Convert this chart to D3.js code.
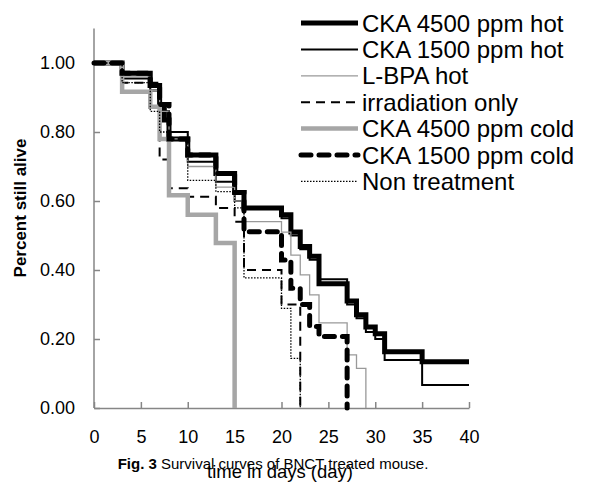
<!DOCTYPE html>
<html>
<head>
<meta charset="UTF-8">
<title>Survival curves of BNCT treated mouse</title>
<script src="https://cdnjs.cloudflare.com/ajax/libs/d3/7.8.5/d3.min.js"></script>
<style>
body { margin: 0; background: #fff; }
text { font-family: "Liberation Sans", Arial, sans-serif; fill: #000; }
</style>
</head>
<body>
<svg id="chart" width="604" height="488"></svg>
<script>

// day of each step and the fraction still alive from that day on
var cka4500HotDays = [0, 3, 6, 7, 7.5, 8, 10, 13, 15, 16, 20, 21, 22, 23, 24, 27, 28, 29, 30, 31, 35, 40];
var cka4500HotAlive = [1.00, 0.97, 0.935, 0.88, 0.835, 0.78, 0.733, 0.68, 0.625, 0.58, 0.56, 0.51, 0.468, 0.44, 0.36, 0.31, 0.27, 0.235, 0.215, 0.163, 0.134, 0.134];

var cka1500HotDays = [0, 3, 6, 7, 8, 10, 13, 15, 16, 20, 21, 22, 23, 24, 27, 28, 29, 30, 31, 35, 40];
var cka1500HotAlive = [1.00, 0.955, 0.92, 0.86, 0.80, 0.714, 0.656, 0.60, 0.577, 0.55, 0.50, 0.46, 0.43, 0.373, 0.30, 0.26, 0.22, 0.20, 0.139, 0.067, 0.067];

var lbpaHotDays = [0, 3, 6, 7, 8, 10, 13, 15, 16, 20, 21, 22, 23, 24, 27, 28, 29];
var lbpaHotAlive = [1.00, 0.96, 0.92, 0.86, 0.78, 0.70, 0.64, 0.60, 0.54, 0.51, 0.443, 0.386, 0.328, 0.247, 0.154, 0.115, 0];

var irradiationDays = [0, 3, 7, 8, 10, 13, 15, 16, 20, 22];
var irradiationAlive = [1.00, 0.943, 0.72, 0.637, 0.612, 0.58, 0.54, 0.40, 0.30, 0];

var cka4500ColdDays = [0, 3, 6, 7, 8, 10, 13, 15];
var cka4500ColdAlive = [1.00, 0.917, 0.873, 0.78, 0.617, 0.56, 0.478, 0];

var cka1500ColdDays = [0, 3, 6, 7, 8, 10, 13, 15, 16, 20, 21, 22, 23, 24, 27];
var cka1500ColdAlive = [1.00, 0.97, 0.935, 0.88, 0.78, 0.733, 0.68, 0.625, 0.511, 0.429, 0.347, 0.30, 0.236, 0.207, 0];

var nonTreatmentDays = [0, 3, 6, 7, 10, 13, 15, 16, 20, 21, 22];
var nonTreatmentAlive = [1.00, 0.943, 0.86, 0.80, 0.66, 0.627, 0.58, 0.377, 0.289, 0.144, 0];

var seriesNames = ["CKA 4500 ppm hot", "CKA 1500 ppm hot", "L-BPA hot", "irradiation only",
                   "CKA 4500 ppm cold", "CKA 1500 ppm cold", "Non treatment"];

var xTicks = [0, 5, 10, 15, 20, 25, 30, 35, 40];
var yTicks = [0, 0.2, 0.4, 0.6, 0.8, 1.0];

// line look of each series, same order as the names
var styles = [
    {stroke: "#000", width: 5, dash: null, cap: "butt"},
    {stroke: "#000", width: 2, dash: null, cap: "butt"},
    {stroke: "#999", width: 1.3, dash: null, cap: "butt"},
    {stroke: "#000", width: 2, dash: "9,6", cap: "butt"},
    {stroke: "#a6a6a6", width: 4.5, dash: null, cap: "butt"},
    {stroke: "#000", width: 5, dash: "10,8", cap: "round"},
    {stroke: "#000", width: 1.3, dash: "1.5,1.5", cap: "butt"}
];

var allDays = [cka4500HotDays, cka1500HotDays, lbpaHotDays, irradiationDays,
               cka4500ColdDays, cka1500ColdDays, nonTreatmentDays];
var allAlive = [cka4500HotAlive, cka1500HotAlive, lbpaHotAlive, irradiationAlive,
                cka4500ColdAlive, cka1500ColdAlive, nonTreatmentAlive];

var series = seriesNames.map(function(name, i) {
    return {
        name: name,
        style: styles[i],
        points: allDays[i].map(function(d, j) { return [d, allAlive[i][j]]; })
    };
});

var svg = d3.select("#chart");

// plot area
var x = d3.scaleLinear().domain([0, 40]).range([94, 469]);
var y = d3.scaleLinear().domain([0, 1.1]).range([408, 28.5]);

var axisColor = "#868686";

var xAxis = svg.append("g")
    .attr("transform", "translate(0," + y(0) + ")")
    .call(d3.axisBottom(x).tickValues(xTicks).tickSizeInner(-6).tickSizeOuter(0).tickPadding(22));

var yAxis = svg.append("g")
    .attr("transform", "translate(" + x(0) + ",0)")
    .call(d3.axisLeft(y).tickValues(yTicks).tickFormat(d3.format(".2f"))
          .tickSizeInner(-6).tickSizeOuter(0).tickPadding(19));

[xAxis, yAxis].forEach(function(a) {
    a.select(".domain").attr("stroke", axisColor).attr("stroke-width", 1.5);
    a.selectAll(".tick line").attr("stroke", axisColor).attr("stroke-width", 1.5);
    a.selectAll(".tick text").attr("font-size", 18).attr("font-family", "Liberation Sans, Arial, sans-serif");
});

// y range runs to 1.1 even though the last tick is 1.00
yAxis.select(".domain").attr("d", "M0," + y(1.1) + "V" + y(0));

// survival step curves
var line = d3.line()
    .x(function(d) { return x(d[0]); })
    .y(function(d) { return y(d[1]); })
    .curve(d3.curveStepAfter);

svg.append("g").selectAll("path")
    .data(series)
    .enter().append("path")
    .attr("d", function(s) { return line(s.points); })
    .attr("fill", "none")
    .attr("stroke", function(s) { return s.style.stroke; })
    .attr("stroke-width", function(s) { return s.style.width; })
    .attr("stroke-dasharray", function(s) { return s.style.dash; })
    .attr("stroke-linecap", function(s) { return s.style.cap; });

// legend, top right
var legend = svg.append("g").selectAll("g")
    .data(series)
    .enter().append("g")
    .attr("transform", function(s, i) { return "translate(0," + (23 + i * 26.4) + ")"; });

legend.append("line")
    .attr("x1", 301).attr("x2", 358)
    .attr("stroke", function(s) { return s.style.stroke; })
    .attr("stroke-width", function(s) { return s.style.width; })
    .attr("stroke-dasharray", function(s) { return s.style.dash; })
    .attr("stroke-linecap", function(s) { return s.style.cap; });

legend.append("text")
    .attr("x", 362)
    .attr("dy", "0.36em")
    .attr("font-size", 24)
    .text(function(s) { return s.name; });

// axis titles
svg.append("text")
    .attr("transform", "translate(26,208) rotate(-90)")
    .attr("text-anchor", "middle")
    .attr("font-size", 17)
    .attr("font-weight", "bold")
    .text("Percent still alive");

// figure caption, printed over the x axis title as in the source
svg.append("text")
    .attr("x", 273)
    .attr("y", 469)
    .attr("text-anchor", "middle")
    .attr("font-family", "Liberation Serif, Times New Roman, serif")
    .attr("font-size", 15)
    .call(function(t) {
        t.append("tspan").attr("font-weight", "bold").text("Fig. 3");
        t.append("tspan").text(" Survival curves of BNCT treated mouse.");
    });

svg.append("text")
    .attr("x", 280)
    .attr("y", 478)
    .attr("text-anchor", "middle")
    .attr("font-size", 18.5)
    .text("time in days (day)");

</script>
</body>
</html>
